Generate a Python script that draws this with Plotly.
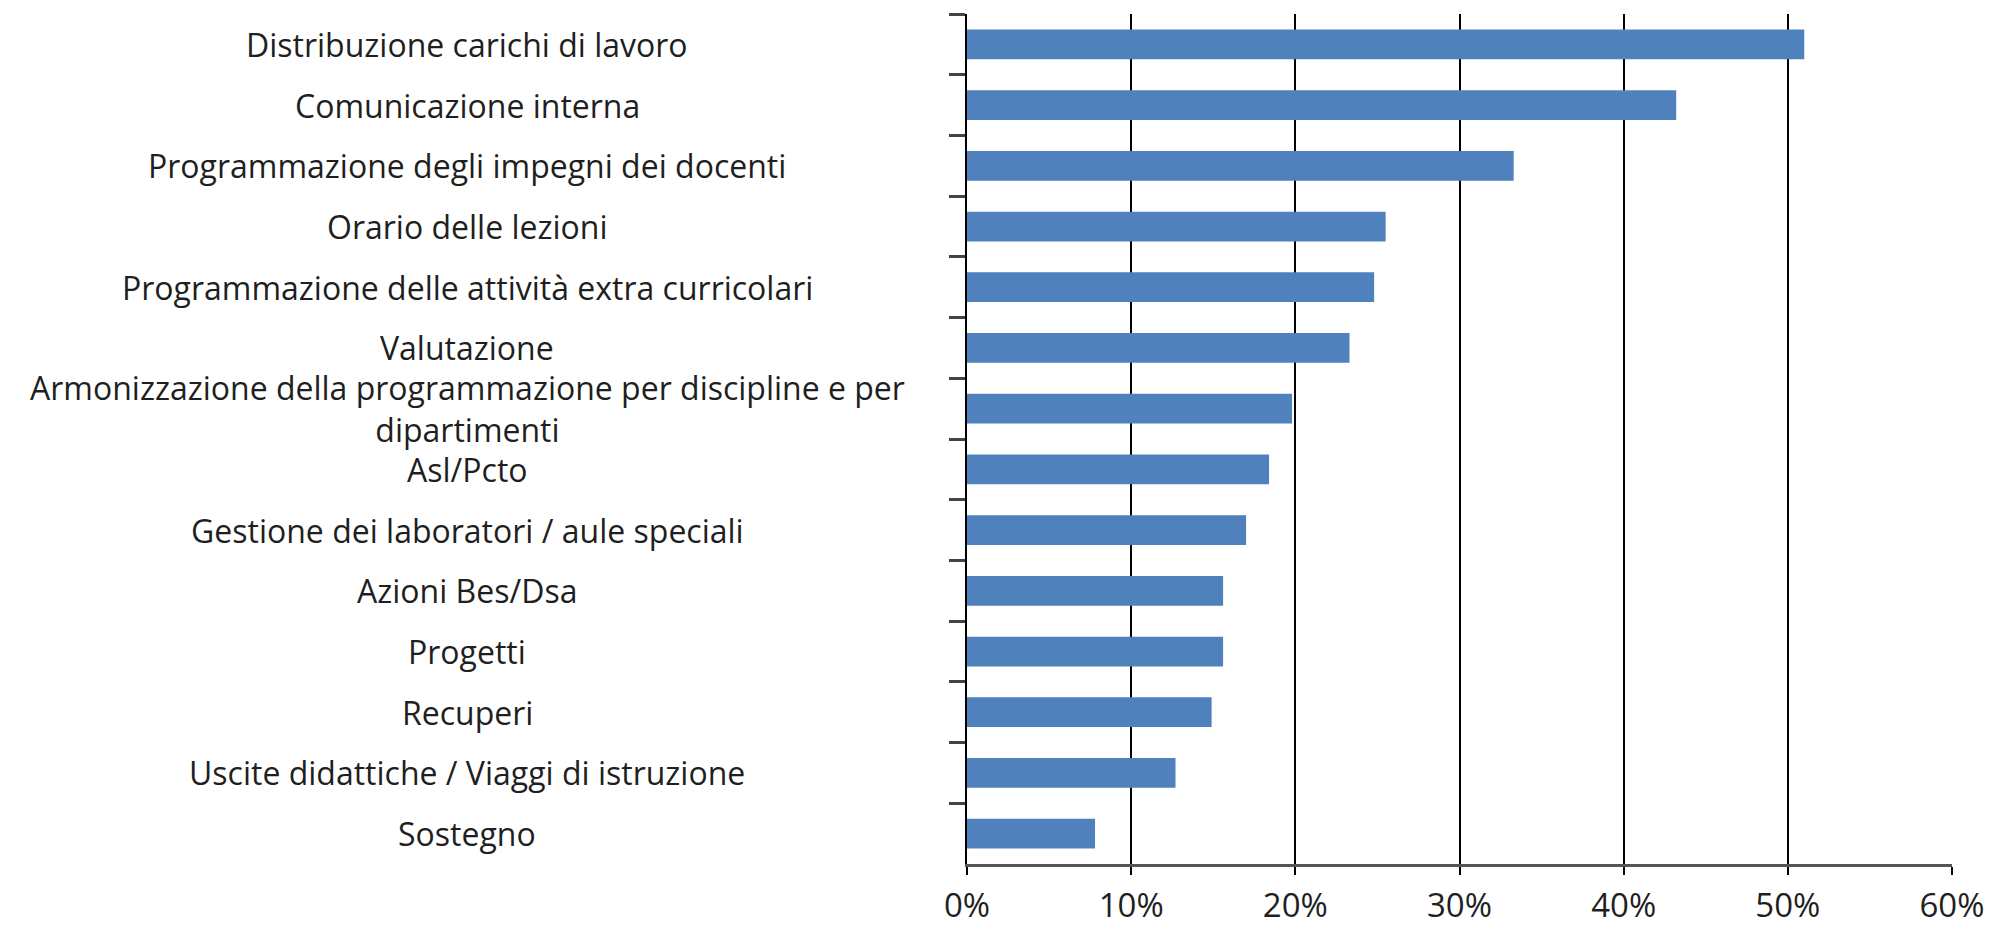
import plotly.graph_objects as go

categories = [
    "Distribuzione carichi di lavoro",
    "Comunicazione interna",
    "Programmazione degli impegni dei docenti",
    "Orario delle lezioni",
    "Programmazione delle attività extra curricolari",
    "Valutazione",
    "Armonizzazione della programmazione per discipline e per dipartimenti",
    "Asl/Pcto",
    "Gestione dei laboratori / aule speciali",
    "Azioni Bes/Dsa",
    "Progetti",
    "Recuperi",
    "Uscite didattiche / Viaggi di istruzione",
    "Sostegno",
]
labels = [
    "Distribuzione carichi di lavoro",
    "Comunicazione interna",
    "Programmazione degli impegni dei docenti",
    "Orario delle lezioni",
    "Programmazione delle attività extra curricolari",
    "Valutazione",
    "Armonizzazione della programmazione per discipline e per<br>dipartimenti",
    "Asl/Pcto",
    "Gestione dei laboratori / aule speciali",
    "Azioni Bes/Dsa",
    "Progetti",
    "Recuperi",
    "Uscite didattiche / Viaggi di istruzione",
    "Sostegno",
]
values = [0.510, 0.432, 0.333, 0.255, 0.248, 0.233, 0.198, 0.184, 0.170, 0.156, 0.156, 0.149, 0.127, 0.078]
x_ticks = [0, 0.1, 0.2, 0.3, 0.4, 0.5, 0.6]
x_tick_labels = ["0%", "10%", "20%", "30%", "40%", "50%", "60%"]

FONT = "Open Sans"
LABEL_SIZE = 32

fig = go.Figure(
    go.Bar(
        x=values,
        y=categories,
        orientation="h",
        marker=dict(color="#4F81BD", line=dict(width=0)),
        width=0.49,
        hoverinfo="x+y",
    )
)

annotations = [
    dict(
        text=lab,
        x=-0.5076,
        xref="paper",
        y=cat,
        yref="y",
        xanchor="center",
        yanchor="middle",
        align="center",
        borderpad=0,
        showarrow=False,
        font=dict(family=FONT, size=LABEL_SIZE, color="#1f1f1f"),
    )
    for cat, lab in zip(categories, labels)
]

fig.update_layout(
    width=2005,
    height=931,
    margin=dict(l=967, r=53, t=14, b=67, autoexpand=False),
    paper_bgcolor="white",
    plot_bgcolor="white",
    showlegend=False,
    annotations=annotations,
    xaxis=dict(
        range=[0, 0.6],
        tickvals=x_ticks,
        ticktext=x_tick_labels,
        automargin=False,
        showgrid=True,
        gridcolor="#000000",
        gridwidth=2,
        zeroline=False,
        showline=True,
        linecolor="#555555",
        linewidth=3,
        ticks="outside",
        ticklen=8,
        tickwidth=2,
        tickcolor="#000000",
        ticklabelstandoff=2,
        tickfont=dict(family=FONT, size=33, color="#1f1f1f"),
    ),
    yaxis=dict(
        type="category",
        categoryorder="array",
        categoryarray=categories,
        autorange="reversed",
        automargin=False,
        showticklabels=False,
        showgrid=False,
        zeroline=False,
        showline=True,
        linecolor="#000000",
        linewidth=2,
        ticks="outside",
        tickson="boundaries",
        ticklen=16,
        tickwidth=3,
        tickcolor="#444444",
    ),
)

fig.write_html(
    "out.html",
    config={"displayModeBar": False},
    post_script="document.body.style.margin='0';document.body.style.overflow='hidden';",
)
